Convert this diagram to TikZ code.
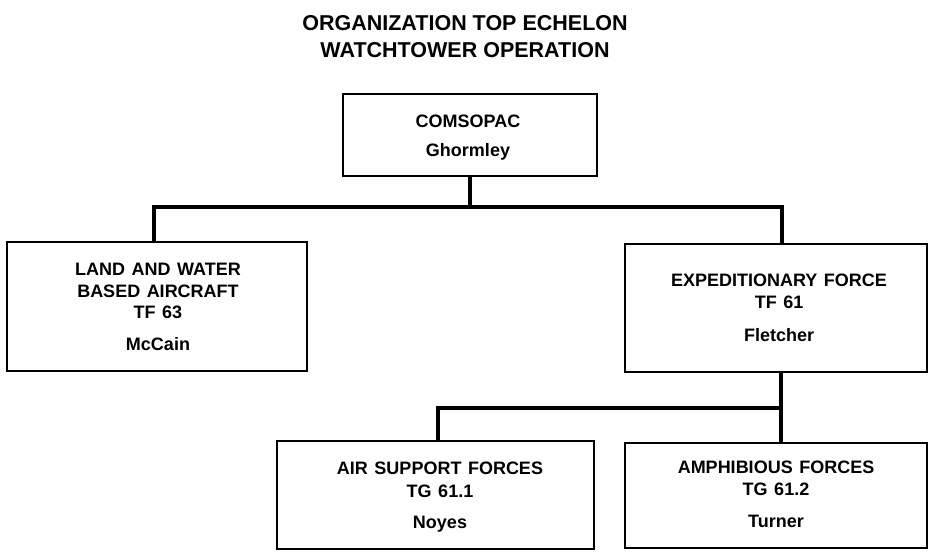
\documentclass[tikz,border=0pt]{standalone}
\usepackage{fontspec}
\setmainfont{Liberation Sans}
\newcommand\myboxfont{\fontsize{18}{20}\selectfont\bfseries\spaceskip 6.5pt\relax}
\begin{document}
\begin{tikzpicture}[x=1pt,y=-1pt,
  box/.style={draw, line width=2.2pt, rectangle, inner sep=0pt},
  conn/.style={line width=3.4pt, line join=miter},
  txt/.style={anchor=base, inner sep=0pt, font=\myboxfont},
  ttl/.style={anchor=base, inner sep=0pt, font=\fontsize{21.5}{25}\selectfont\bfseries}]
\useasboundingbox (0,0) rectangle (933,551);
% title
\node[ttl] (t1) at (465,31) {ORGANIZATION TOP ECHELON};
\node[ttl] (t2) at (465,57) {WATCHTOWER OPERATION};
% boxes
\node[box, minimum width=254pt, minimum height=82pt] (comsopac) at (470,135) {};
\node[box, minimum width=300pt, minimum height=129pt] (land) at (157,306.5) {};
\node[box, minimum width=302pt, minimum height=128pt] (exp) at (776,308) {};
\node[box, minimum width=317pt, minimum height=108pt] (air) at (435.5,495) {};
\node[box, minimum width=302pt, minimum height=105pt] (amph) at (776,495.5) {};
% texts
\node[txt] (c1) at (468,127) {COMSOPAC};
\node[txt] (c2) at (468,156) {Ghormley};
\node[txt] (l1) at (158,275) {LAND AND WATER};
\node[txt] (l2) at (158,297) {BASED AIRCRAFT};
\node[txt] (l3) at (158,318) {TF 63};
\node[txt] (l4) at (158,350) {McCain};
\node[txt] (e1) at (779,286) {EXPEDITIONARY FORCE};
\node[txt] (e2) at (779,308) {TF 61};
\node[txt] (e3) at (779,341) {Fletcher};
\node[txt] (a1) at (440,474) {AIR SUPPORT FORCES};
\node[txt] (a2) at (440,497) {TG 61.1};
\node[txt] (a3) at (440,528) {Noyes};
\node[txt] (m1) at (776,473) {AMPHIBIOUS FORCES};
\node[txt] (m2) at (776,495) {TG 61.2};
\node[txt] (m3) at (776,527) {Turner};
% connectors
\coordinate (jl) at (154,207);
\coordinate (jr) at (782,207);
\coordinate (kl) at (438,408);
\coordinate (kr) at (781,408);
\draw[conn] (comsopac.south) |- (jl) -- (jl |- land.north);
\draw[conn] (jl) -- (jr) -- (jr |- exp.north);
\draw[conn] (kr |- exp.south) -- (kr |- amph.north);
\draw[conn] (kr) -- (kl) -- (kl |- air.north);
\end{tikzpicture}
\end{document}
